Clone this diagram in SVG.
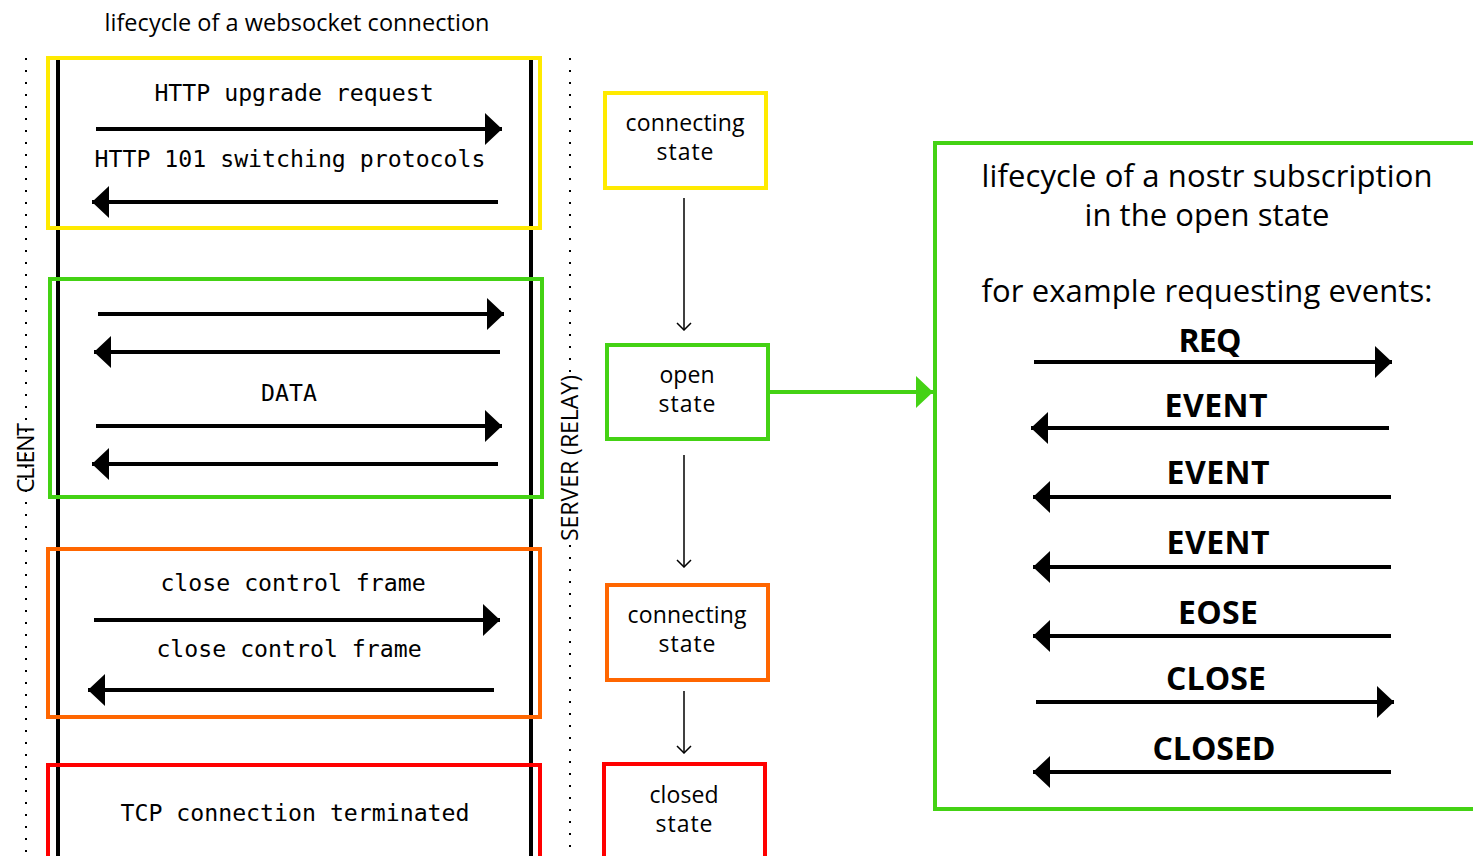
<svg xmlns="http://www.w3.org/2000/svg" width="1473" height="856" viewBox="0 0 1473 856">
<style>
.sans{font-family:"Open Sans","Noto Sans","DejaVu Sans",sans-serif;fill:#000}
.st{font-family:"Open Sans","Noto Sans","DejaVu Sans",sans-serif;font-size:23px;fill:#000}
.big{font-family:"Open Sans","Noto Sans","DejaVu Sans",sans-serif;font-size:31px;fill:#000}
.mono{font-family:"DejaVu Sans Mono","Liberation Mono",monospace;font-size:23.2px;fill:#000}
.bold{font-family:"Open Sans","Noto Sans",sans-serif;font-weight:bold;font-size:32px;fill:#000}
.msg{stroke:#000;stroke-width:4;fill:none}
.life{stroke:#000;stroke-width:4}
.dot{stroke:#000;stroke-width:2;stroke-dasharray:2 10}
.thin{stroke:#000;stroke-width:1.5;fill:none}
.box{fill:none;stroke-width:4}
</style>
<defs>
<marker id="ah" viewBox="0 0 17 32" refX="17" refY="16" markerWidth="17" markerHeight="32" markerUnits="userSpaceOnUse" orient="auto"><path d="M0,0 L17,16 L0,32 Z" fill="#000"/></marker>
<marker id="ahg" viewBox="0 0 17 32" refX="17" refY="16" markerWidth="17" markerHeight="32" markerUnits="userSpaceOnUse" orient="auto"><path d="M0,0 L17,16 L0,32 Z" fill="#44d214"/></marker>
<marker id="oh" viewBox="0 0 9 16" refX="8" refY="8" markerWidth="9" markerHeight="16" markerUnits="userSpaceOnUse" orient="auto"><path d="M1,1 L8,8 L1,15" fill="none" stroke="#000" stroke-width="1.5"/></marker>
</defs>
<rect width="1473" height="856" fill="#fff"/>

<text class="sans" x="297" y="31" font-size="23.5" text-anchor="middle" textLength="385">lifecycle of a websocket connection</text>

<g id="lanes">
<line class="dot" x1="26" y1="58" x2="26" y2="856"/>
<line class="dot" x1="570" y1="58" x2="570" y2="372"/>
<line class="dot" x1="570" y1="545" x2="570" y2="856"/>
<line class="life" x1="58" y1="60" x2="58" y2="856"/>
<line class="life" x1="531" y1="60" x2="531" y2="856"/>
</g>
<g id="client-label"><text class="sans" font-size="23" text-anchor="middle" textLength="70" transform="translate(34,458) rotate(-90)">CLIENT</text></g>
<g id="server-label"><text class="sans" font-size="23" text-anchor="middle" textLength="166" transform="translate(578,458) rotate(-90)">SERVER (RELAY)</text></g>

<g id="phase-connecting">
<rect class="box" x="48" y="58" width="492" height="170" stroke="#ffea00"/>
<text class="mono" x="294" y="101" text-anchor="middle">HTTP upgrade request</text>
<text class="mono" x="290" y="167" text-anchor="middle">HTTP 101 switching protocols</text>
</g>
<g id="phase-open">
<rect class="box" x="50" y="279" width="492" height="218" stroke="#44d214"/>
<text class="mono" x="289" y="401" text-anchor="middle">DATA</text>
</g>
<g id="phase-closing">
<rect class="box" x="48" y="549" width="492" height="168" stroke="#ff6600"/>
<text class="mono" x="293" y="591" text-anchor="middle">close control frame</text>
<text class="mono" x="289" y="657" text-anchor="middle">close control frame</text>
</g>
<g id="phase-closed">
<rect class="box" x="48" y="765" width="492" height="100" stroke="#ff0000"/>
<text class="mono" x="295" y="821" text-anchor="middle">TCP connection terminated</text>
</g>

<g id="state-connecting">
<rect class="box" x="605" y="93" width="161" height="95" stroke="#ffea00"/>
<text class="st" x="685" y="131" text-anchor="middle" textLength="119">connecting</text>
<text class="st" x="685" y="160" text-anchor="middle" textLength="57">state</text>
</g>
<g id="state-open">
<rect class="box" x="607" y="345" width="161" height="94" stroke="#44d214"/>
<text class="st" x="687" y="383" text-anchor="middle" textLength="55">open</text>
<text class="st" x="687" y="412" text-anchor="middle" textLength="57">state</text>
</g>
<g id="state-closing">
<rect class="box" x="607" y="585" width="161" height="95" stroke="#ff6600"/>
<text class="st" x="687" y="623" text-anchor="middle" textLength="119">connecting</text>
<text class="st" x="687" y="652" text-anchor="middle" textLength="57">state</text>
</g>
<g id="state-closed">
<rect class="box" x="604" y="764" width="161" height="100" stroke="#ff0000"/>
<text class="st" x="684" y="803" text-anchor="middle" textLength="69">closed</text>
<text class="st" x="684" y="832" text-anchor="middle" textLength="57">state</text>
</g>

<g id="subscription">
<rect class="box" x="935" y="143" width="560" height="666" stroke="#44d214"/>
<text class="big" x="1207" y="187" text-anchor="middle" textLength="451">lifecycle of a nostr subscription</text>
<text class="big" x="1207" y="226" text-anchor="middle" textLength="245">in the open state</text>
<text class="big" x="1207" y="302" text-anchor="middle" textLength="451">for example requesting events:</text>
<text class="bold" x="1210" y="352" text-anchor="middle" textLength="63">REQ</text>
<text class="bold" x="1216" y="417" text-anchor="middle" textLength="103">EVENT</text>
<text class="bold" x="1218" y="484" text-anchor="middle" textLength="103">EVENT</text>
<text class="bold" x="1218" y="554" text-anchor="middle" textLength="103">EVENT</text>
<text class="bold" x="1218" y="624" text-anchor="middle" textLength="80">EOSE</text>
<text class="bold" x="1216" y="690" text-anchor="middle" textLength="100">CLOSE</text>
<text class="bold" x="1214" y="760" text-anchor="middle" textLength="123">CLOSED</text>
</g>

<g id="connectors">
<line class="msg" x1="96" y1="129" x2="502" y2="129" marker-end="url(#ah)"/>
<line class="msg" x1="498" y1="202" x2="92" y2="202" marker-end="url(#ah)"/>
<line class="msg" x1="98" y1="314" x2="504" y2="314" marker-end="url(#ah)"/>
<line class="msg" x1="500" y1="352" x2="94" y2="352" marker-end="url(#ah)"/>
<line class="msg" x1="96" y1="426" x2="502" y2="426" marker-end="url(#ah)"/>
<line class="msg" x1="498" y1="464" x2="92" y2="464" marker-end="url(#ah)"/>
<line class="msg" x1="94" y1="620" x2="500" y2="620" marker-end="url(#ah)"/>
<line class="msg" x1="494" y1="690" x2="88" y2="690" marker-end="url(#ah)"/>

<line class="thin" x1="684" y1="198" x2="684" y2="330" marker-end="url(#oh)"/>
<line class="thin" x1="684" y1="455" x2="684" y2="567" marker-end="url(#oh)"/>
<line class="thin" x1="684" y1="691" x2="684" y2="753" marker-end="url(#oh)"/>

<line x1="770" y1="392" x2="933" y2="392" stroke="#44d214" stroke-width="4" marker-end="url(#ahg)"/>

<line class="msg" x1="1034" y1="362" x2="1392" y2="362" marker-end="url(#ah)"/>
<line class="msg" x1="1389" y1="428" x2="1031" y2="428" marker-end="url(#ah)"/>
<line class="msg" x1="1391" y1="497" x2="1033" y2="497" marker-end="url(#ah)"/>
<line class="msg" x1="1391" y1="567" x2="1033" y2="567" marker-end="url(#ah)"/>
<line class="msg" x1="1391" y1="636" x2="1033" y2="636" marker-end="url(#ah)"/>
<line class="msg" x1="1036" y1="702" x2="1394" y2="702" marker-end="url(#ah)"/>
<line class="msg" x1="1391" y1="772" x2="1033" y2="772" marker-end="url(#ah)"/>
</g>
</svg>
